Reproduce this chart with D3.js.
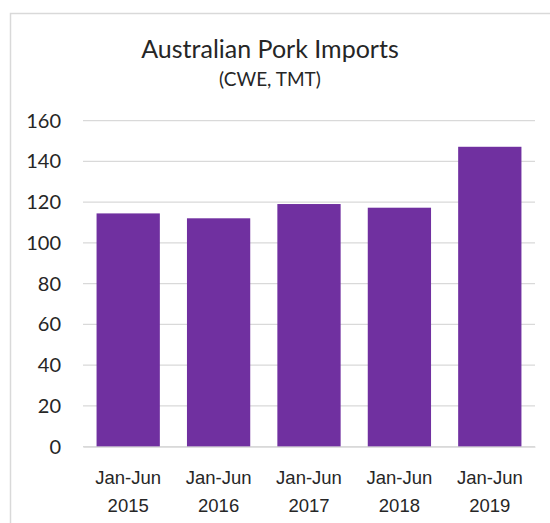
<!DOCTYPE html>
<html>
<head>
<meta charset="utf-8">
<script src="https://cdn.jsdelivr.net/npm/d3@7"></script>
<style>
    body { margin: 0; background: #fff; }
    svg { display: block; font-family: Lato, "Open Sans", sans-serif; }
</style>
</head>
<body>
<div id="chart"></div>
<script>
const periods = ["Jan-Jun", "Jan-Jun", "Jan-Jun", "Jan-Jun", "Jan-Jun"];
const years = ["2015", "2016", "2017", "2018", "2019"];
const imports = [114.5, 112.1, 119.1, 117.3, 147.2];
const yTicks = [0, 20, 40, 60, 80, 100, 120, 140, 160];

const width = 550, height = 523;
const margin = { top: 120.7, right: 15, bottom: 76.3, left: 83 };
const innerW = width - margin.left - margin.right;
const innerH = height - margin.top - margin.bottom;

const svg = d3.select("#chart").append("svg")
    .attr("width", width)
    .attr("height", height);

// chart area frame (only top and left visible)
svg.append("path")
    .attr("d", "M10.5,523 V13.5 H550")
    .attr("fill", "none")
    .attr("stroke", "#d9d9d9")
    .attr("stroke-width", 1.5);

svg.append("text")
    .attr("x", 270)
    .attr("y", 58)
    .attr("text-anchor", "middle")
    .attr("font-size", 25)
    .attr("fill", "#262626")
    .text("Australian Pork Imports");

svg.append("text")
    .attr("x", 270)
    .attr("y", 86)
    .attr("text-anchor", "middle")
    .attr("font-size", 19)
    .attr("fill", "#262626")
    .text("(CWE, TMT)");

const g = svg.append("g")
    .attr("transform", "translate(" + margin.left + "," + margin.top + ")");

const x = d3.scaleBand().domain(years).range([0, innerW]).paddingInner(0.3).paddingOuter(0.15);
const y = d3.scaleLinear().domain([0, 160]).range([innerH, 0]);

// gridlines
g.append("g")
    .selectAll("line")
    .data(yTicks)
    .enter().append("line")
    .attr("x1", 0)
    .attr("x2", innerW)
    .attr("y1", d => y(d))
    .attr("y2", d => y(d))
    .attr("stroke", "#d9d9d9")
    .attr("stroke-width", 1.2);

const yAxis = d3.axisLeft(y).tickValues(yTicks).tickSize(0).tickPadding(22);
g.append("g")
    .attr("class", "y axis")
    .call(yAxis)
    .call(s => s.select(".domain").remove())
    .selectAll("text")
    .attr("font-size", 20)
    .attr("font-family", "Lato, 'Open Sans', sans-serif")
    .attr("fill", "#262626");

g.selectAll(".bar")
    .data(imports)
    .enter().append("rect")
    .attr("class", "bar")
    .attr("x", (d, i) => x(years[i]))
    .attr("width", x.bandwidth())
    .attr("y", d => y(d))
    .attr("height", d => innerH - y(d))
    .attr("fill", "#7030a0");

// x labels, two lines
const xAxis = d3.axisBottom(x).tickSize(0).tickPadding(0).tickFormat("");
const xg = g.append("g")
    .attr("class", "x axis")
    .attr("transform", "translate(0," + innerH + ")")
    .call(xAxis);
xg.select(".domain").attr("stroke", "#d9d9d9").attr("stroke-width", 1.2);
xg.selectAll(".tick text").remove();
xg.selectAll(".tick").each(function(d, i) {
    const t = d3.select(this).append("text")
        .attr("text-anchor", "middle")
        .attr("font-size", 18.5)
        .attr("fill", "#262626");
    t.append("tspan").attr("x", 0).attr("y", 37).text(periods[i]);
    t.append("tspan").attr("x", 0).attr("y", 65).text(d);
});
</script>
</body>
</html>
